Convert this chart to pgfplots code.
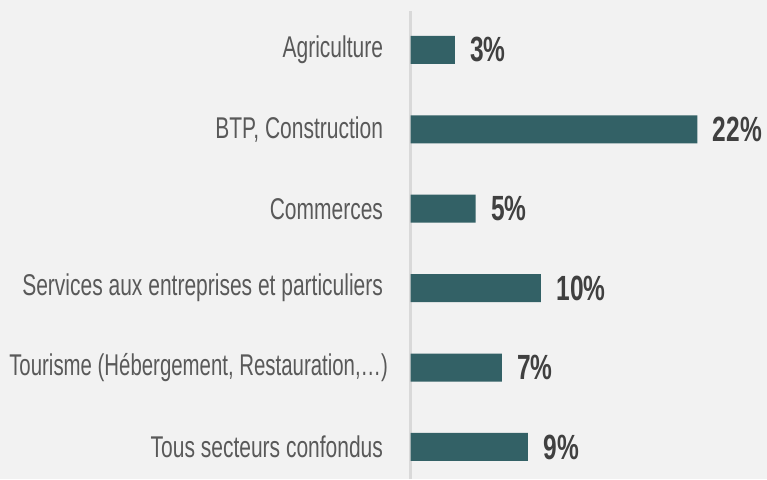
\documentclass[border=0pt]{standalone}
\usepackage{pgfplots}
\pgfplotsset{compat=1.18}
\usepackage{fontspec}
\setmainfont{Liberation Sans}[FakeStretch=0.7]
\newfontfamily\tourfont{Liberation Sans}[FakeStretch=0.68]
\definecolor{bg}{HTML}{F2F2F2}
\definecolor{barc}{HTML}{336166}
\definecolor{lab}{HTML}{595959}
\definecolor{val}{HTML}{404040}
\definecolor{linegray}{HTML}{D9D9D9}
\begin{document}
\begin{tikzpicture}[x=1pt,y=1pt]
\fill[bg] (0,0) rectangle (767,479);
\path[use as bounding box] (0,0) rectangle (767,479);
\begin{axis}[
  at={(410.5pt,0pt)}, anchor=south west,
  scale only axis, width=356pt, height=468pt,
  xmin=0, xmax=27.3, ymin=-0.403, ymax=5.49,
  axis x line=none, axis y line=left,
  y axis line style={-, draw=linegray, line width=2.5pt},
  ytick={0,1,2,3,4,5},
  yticklabels={{Tous secteurs confondus}, {\tourfont Tourisme (Hébergement, Restauration,…)\hspace*{-5pt}}, {Services aux entreprises et particuliers}, {Commerces}, {BTP, Construction}, {Agriculture}},
  major tick length=0pt,
  yticklabel style={font=\fontsize{30}{34}\selectfont, text=lab, anchor=east, xshift=-24pt},
  clip=false,
]
\addplot[xbar, fill=barc, draw=none, bar width=28pt,
  nodes near coords, point meta=explicit symbolic,
  nodes near coords style={anchor=west, xshift=12pt, font=\fontsize{35}{38}\selectfont\bfseries, text=val}]
  coordinates {(9,0)[9\%] (7,1)[7\%] (10,2)[10\%] (5,3)[5\%] (22,4)[22\%] (3.4,5)[3\%]};
\end{axis}
\end{tikzpicture}
\end{document}
